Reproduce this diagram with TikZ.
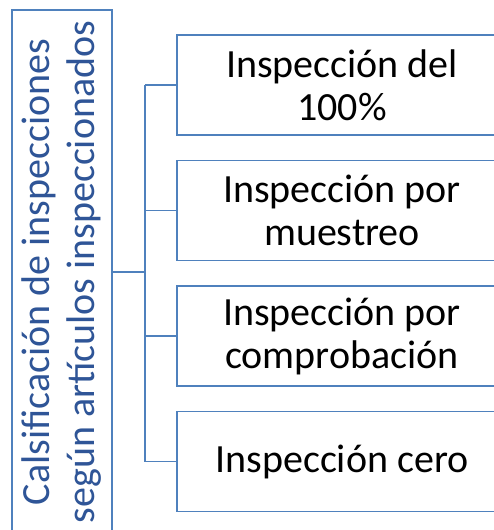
\documentclass[tikz,border=0pt]{standalone}
\usepackage{fontspec}
\setmainfont{Carlito}
\usepackage{xcolor}
\usepackage{tikz}
\definecolor{linea}{HTML}{4F81BD}
\definecolor{azul}{HTML}{2F5597}
\tikzset{
  caja/.style={draw=linea,line width=1.8pt,fill=white,minimum width=330pt,minimum height=100pt,
    align=center,font=\fontsize{40}{43}\selectfont,text=black},
  raiz/.style={draw=linea,line width=1.8pt,fill=white,minimum width=524pt,minimum height=100pt,
    rotate=90,align=center,font=\fontsize{40}{45}\selectfont,text=azul},
  rama/.style={draw=linea,line width=1.8pt}
}

\begin{document}
\begin{tikzpicture}[x=1pt,y=-1pt]
\useasboundingbox (0,0) rectangle (494,530);
\node[raiz] (clasif) at (62,272) {Calsificación de inspecciones\\según artículos inspeccionados};
\node[caja] (completa) at (342,85) {Inspección del\\100\%};
\node[caja] (muestreo) at (342,210.5) {Inspección por\\muestreo};
\node[caja] (comprob) at (342,336) {Inspección por\\comprobación};
\node[caja] (cero) at (342,461.5) {Inspección cero};
\coordinate (tronco) at (145,272);
\draw[rama] (clasif.south) -- (tronco);
\draw[rama] (tronco |- completa.west) -- (tronco |- cero.west);
\foreach \n in {completa,muestreo,comprob,cero}
  \draw[rama] (tronco |- \n.west) -- (\n.west);
\end{tikzpicture}
\end{document}
